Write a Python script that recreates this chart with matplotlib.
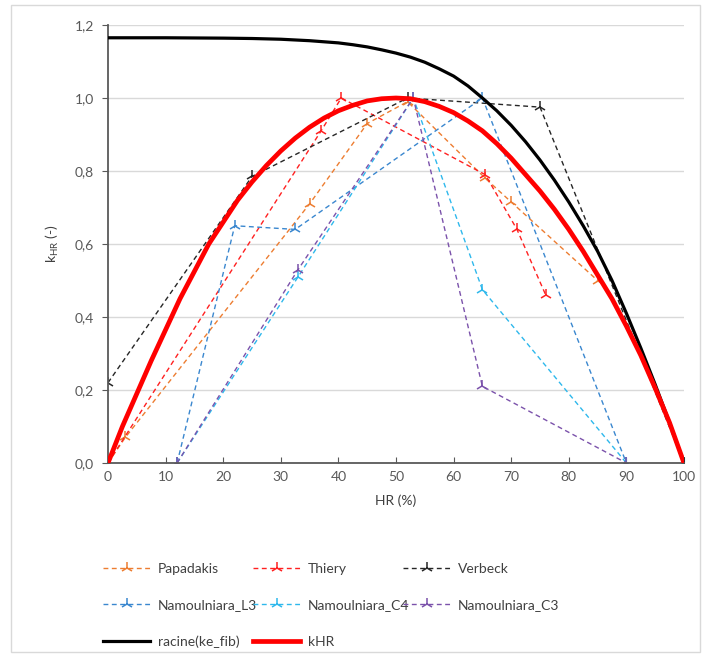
import numpy as np
import matplotlib
matplotlib.use("Agg")
import matplotlib.pyplot as plt
import matplotlib.ticker as mticker
from matplotlib.patches import Rectangle

plt.rcParams['font.family'] = ['Lato', 'DejaVu Sans']

# measured series (HR in %, k in -)
papadakis_x = [0, 3, 35, 45, 52, 65.5, 70, 85]
papadakis_y = [0, 0.07, 0.71, 0.93, 0.99, 0.78, 0.715, 0.50]

thiery_x = [0, 37, 40.5, 65.5, 71, 76]
thiery_y = [0, 0.91, 1.0, 0.79, 0.64, 0.46]

verbeck_x = [0, 25, 52, 75, 100]
verbeck_y = [0.22, 0.785, 1.0, 0.975, 0]

l3_x = [12, 22, 32.5, 65, 90]
l3_y = [0, 0.65, 0.64, 1.0, 0]

c4_x = [12, 33, 53, 65, 90]
c4_y = [0, 0.51, 1.0, 0.475, 0]

c3_x = [12, 33, 53, 65, 90]
c3_y = [0, 0.53, 1.0, 0.21, 0]

# model curves
racine_x = [0, 10, 20, 25, 30, 35, 40, 42.5, 45, 47.5, 50, 52.5, 55, 57.5, 60, 62.5,
            65, 67.5, 70, 72.5, 75, 77.5, 80, 82.5, 85, 87.5, 90, 92.5, 95, 97.5, 100]
racine_y = [1.165, 1.165, 1.164, 1.163, 1.161, 1.157, 1.151, 1.146, 1.14, 1.132, 1.123,
            1.112, 1.098, 1.08, 1.06, 1.033, 1.0, 0.965, 0.925, 0.88, 0.83, 0.775, 0.715,
            0.65, 0.58, 0.50, 0.41, 0.315, 0.215, 0.11, 0]

khr_x = [0, 2.5, 5, 7.5, 10, 12.5, 15, 17.5, 20, 22.5, 25, 27.5, 30, 32.5, 35, 37.5,
         40, 42.5, 45, 47.5, 50, 52.5, 55, 57.5, 60, 62.5, 65, 67.5, 70, 72.5, 75, 77.5,
         80, 82.5, 85, 87.5, 90, 92.5, 95, 97.5, 100]
khr_y = [0, 0.10, 0.19, 0.28, 0.365, 0.45, 0.525, 0.60, 0.66, 0.72, 0.77, 0.815, 0.855,
         0.89, 0.92, 0.945, 0.965, 0.98, 0.992, 0.998, 1.0, 0.998, 0.99, 0.977, 0.96,
         0.937, 0.91, 0.875, 0.835, 0.79, 0.745, 0.695, 0.64, 0.58, 0.515, 0.45, 0.375,
         0.295, 0.205, 0.11, 0]

fig = plt.figure(figsize=(7.1, 6.59), dpi=100)
ax = fig.add_axes([108/710, 1-463/659, (684-108)/710, (463-25)/659])

dash = (3.5, 2.5)
mk = dict(marker='2', markersize=8.5, markeredgewidth=1.1, linestyle='--', linewidth=1.0, dashes=dash)

h_pap, = ax.plot(papadakis_x, papadakis_y, color='#ED7D31', label='Papadakis', **mk)
h_thi, = ax.plot(thiery_x, thiery_y, color='#FF2020', label='Thiery', **mk)
h_ver, = ax.plot(verbeck_x, verbeck_y, color='#262626', label='Verbeck', **mk)
h_l3, = ax.plot(l3_x, l3_y, color='#3A87CF', label='Namoulniara_L3', **mk)
h_c4, = ax.plot(c4_x, c4_y, color='#2EB8EC', label='Namoulniara_C4', **mk)
h_c3, = ax.plot(c3_x, c3_y, color='#7B52AB', label='Namoulniara_C3', **mk)
h_rac, = ax.plot(racine_x, racine_y, color='black', linewidth=2.3, label='racine(ke_fib)',
                 zorder=5, solid_joinstyle='round')
h_khr, = ax.plot(khr_x, khr_y, color='#FF0000', linewidth=3.4, label='kHR',
                 zorder=6, solid_joinstyle='round')

ax.set_xlim(0, 100)
ax.set_ylim(0, 1.2)
ax.xaxis.set_major_locator(mticker.MultipleLocator(10))
ax.yaxis.set_major_locator(mticker.MultipleLocator(0.2))
ax.yaxis.set_major_formatter(mticker.FuncFormatter(lambda v, p: f"{v:.1f}".replace('.', ',')))
ax.grid(axis='y', color='#D9D9D9', linewidth=1.0)
ax.set_axisbelow(True)
for s in ['top', 'right']:
    ax.spines[s].set_visible(False)
for s in ['left', 'bottom']:
    ax.spines[s].set_color('#595959')
    ax.spines[s].set_linewidth(1.3)
ax.tick_params(axis='x', direction='in', length=4, color='#595959', labelcolor='#595959', labelsize=10, pad=6)
ax.tick_params(axis='y', direction='out', length=4, color='#595959', labelcolor='#595959', labelsize=10, pad=6)
ax.set_xlabel('HR (%)', fontsize=10, color='#404040', labelpad=8)
ax.set_ylabel(r'k$_{\mathregular{HR}}$ (-)', fontsize=10, color='#404040', labelpad=10)

# legend: three columns placed at fixed positions like the original
columns = [[h_pap, h_l3, h_rac], [h_thi, h_c4, h_khr], [h_ver, h_c3]]
col_x = [103, 253, 403]
for hs, cx in zip(columns, col_x):
    leg = fig.legend(handles=hs, loc='upper left', bbox_to_anchor=(cx/710, 1-563/659),
                     frameon=False, fontsize=10, handlelength=3.4, handletextpad=0.55,
                     labelspacing=1.75, borderaxespad=0, borderpad=0)
    for t in leg.get_texts():
        t.set_color('#404040')

fig.add_artist(Rectangle((11/710, 1-652/659), (700-11)/710, (652-5)/659,
                         transform=fig.transFigure, fill=False, edgecolor='#D9D9D9', linewidth=1.0))

fig.savefig('out.png', dpi=100)
